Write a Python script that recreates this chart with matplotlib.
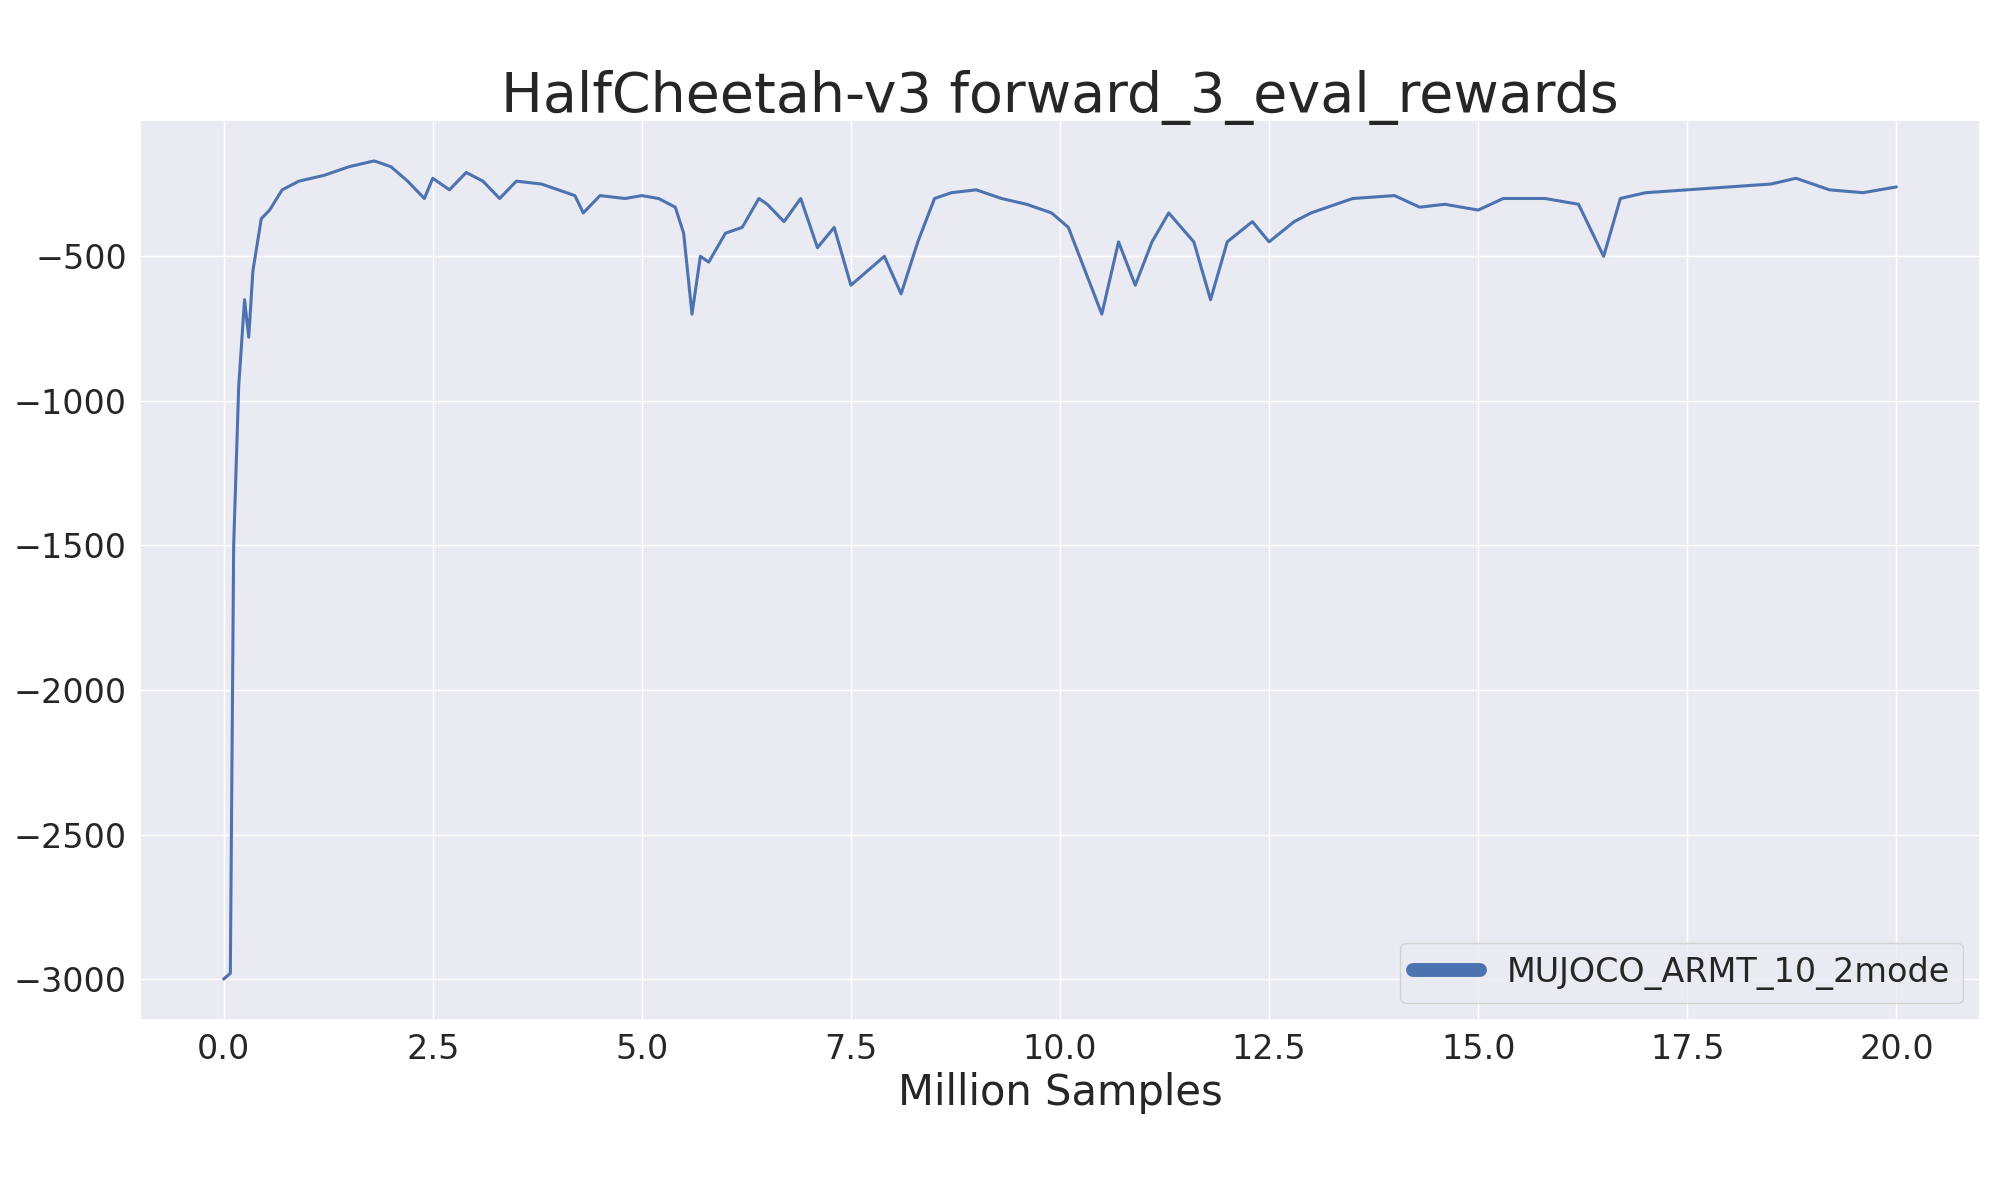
import matplotlib
matplotlib.use("Agg")
import matplotlib.pyplot as plt
import seaborn as sns

sns.set_theme(style="darkgrid")
plt.rcParams['font.family'] = ['DejaVu Sans']

# values (million samples, reward)
samples = [0, 0.08, 0.12, 0.18, 0.25, 0.3, 0.35, 0.45, 0.55, 0.7, 0.9, 1.2, 1.5, 1.8, 2.0,
           2.2, 2.4, 2.5, 2.7, 2.9, 3.1, 3.3, 3.5, 3.8, 4.0, 4.2, 4.3, 4.5, 4.8, 5.0,
           5.2, 5.4, 5.5, 5.6, 5.7, 5.8, 6.0, 6.2, 6.4, 6.5, 6.7, 6.9, 7.1, 7.3, 7.5,
           7.7, 7.9, 8.1, 8.3, 8.5, 8.7, 9.0, 9.3, 9.6, 9.9, 10.1, 10.3, 10.5, 10.7,
           10.9, 11.1, 11.3, 11.6, 11.8, 12.0, 12.3, 12.5, 12.8, 13.0, 13.5, 14.0,
           14.3, 14.6, 15.0, 15.3, 15.8, 16.2, 16.5, 16.7, 17.0, 17.5, 18.0, 18.5,
           18.8, 19.2, 19.6, 20.0]
rewards = [-3000, -2980, -1500, -950, -650, -780, -550, -370, -340, -270, -240, -220, -190,
           -170, -190, -240, -300, -230, -270, -210, -240, -300, -240, -250, -270, -290,
           -350, -290, -300, -290, -300, -330, -420, -700, -500, -520, -420, -400, -300,
           -320, -380, -300, -470, -400, -600, -550, -500, -630, -450, -300, -280, -270,
           -300, -320, -350, -400, -550, -700, -450, -600, -450, -350, -450, -650, -450,
           -380, -450, -380, -350, -300, -290, -330, -320, -340, -300, -300, -320, -500,
           -300, -280, -270, -260, -250, -230, -270, -280, -260]

fig, ax = plt.subplots(figsize=(20, 12), dpi=100)
ax.plot(samples, rewards, color="#4c72b0", lw=2.2, label="MUJOCO_ARMT_10_2mode")
ax.set_title("HalfCheetah-v3 forward_3_eval_rewards", fontsize=40)
ax.set_xlabel("Million Samples", fontsize=30)
ax.tick_params(labelsize=24)
ax.set_xticks([0, 2.5, 5, 7.5, 10, 12.5, 15, 17.5, 20])
leg = ax.legend(loc="lower right", fontsize=24)
for l in leg.get_lines():
    l.set_linewidth(10)
fig.subplots_adjust(left=0.07, right=0.99, top=0.9, bottom=0.15)
fig.savefig("out.png")
